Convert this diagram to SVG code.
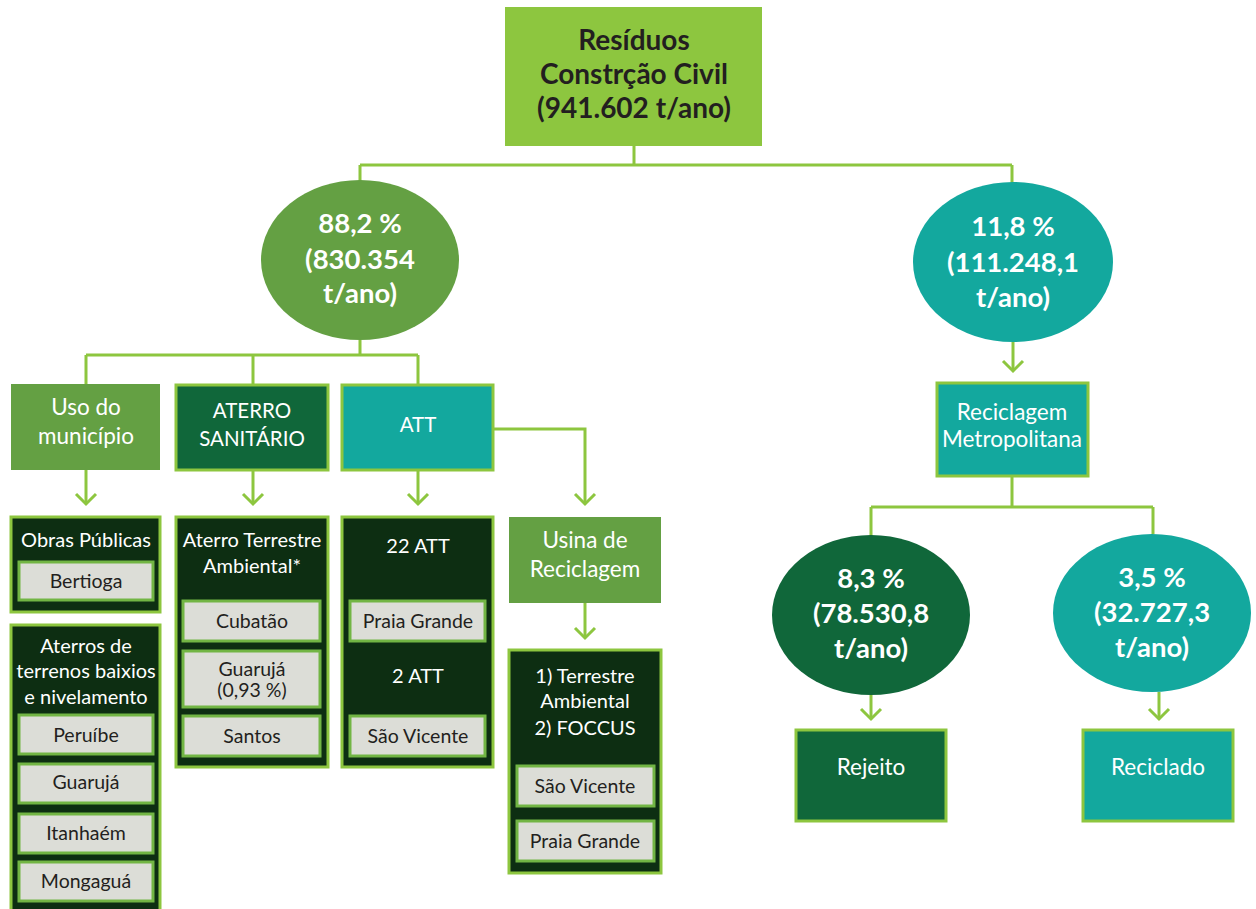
<svg xmlns="http://www.w3.org/2000/svg" width="1256" height="909" viewBox="0 0 1256 909">
<style>
text{font-family:Lato,"Noto Sans","Liberation Sans",sans-serif;text-anchor:middle}
.t{font-size:28px;font-weight:bold;fill:#231f20}
.e{font-size:27.5px;font-weight:bold;fill:#ffffff}
.w{font-size:22.5px;fill:#ffffff}
.u{font-size:20.5px;fill:#ffffff}
.d{font-size:20px;fill:#ffffff}
.s{font-size:19.5px;fill:#231f20}
.mid{fill:#64a043}
.dk{fill:#10673a;stroke:#8dc63f;stroke-width:3}
.tl{fill:#13a89e;stroke:#8dc63f;stroke-width:3}
.bx{fill:#0d2e12;stroke:#8dc63f;stroke-width:3}
.in{fill:#dcddd7;stroke:#72b544;stroke-width:3}
.c{fill:none;stroke:#8dc63f;stroke-width:3}
</style>
<defs>
<marker id="chev" markerUnits="userSpaceOnUse" markerWidth="26" markerHeight="26" viewBox="0 0 26 26" refX="13" refY="13" orient="auto">
<path d="M3,3 L13,13 L3,23" fill="none" stroke="#8dc63f" stroke-width="3"/>
</marker>
</defs>
<rect width="1256" height="909" fill="#ffffff"/>
<g id="connectors">
<path class="c" d="M634,146 V165 M360,165 H1012 M360,165 V181 M1012,165 V183"/>
<path class="c" d="M360,340 V355 M86,355 H418 M86,355 V384 M253,355 V384 M418,355 V384"/>
<path class="c" d="M86,470 V504" marker-end="url(#chev)"/>
<path class="c" d="M253,470 V504" marker-end="url(#chev)"/>
<path class="c" d="M418,470 V504" marker-end="url(#chev)"/>
<path class="c" d="M493,429 H585 V504" marker-end="url(#chev)"/>
<path class="c" d="M585,603 V638" marker-end="url(#chev)"/>
<path class="c" d="M1013,342 V371" marker-end="url(#chev)"/>
<path class="c" d="M1012,476 V507 M871,507 H1153 M871,507 V536 M1153,507 V534"/>
<path class="c" d="M871,695 V719" marker-end="url(#chev)"/>
<path class="c" d="M1159,692 V719" marker-end="url(#chev)"/>
</g>
<g id="n-top">
<rect x="505" y="7" width="257" height="139" fill="#8dc63f"/>
<text class="t" x="634" y="50">Resíduos</text>
<text class="t" x="634" y="84">Constrção Civil</text>
<text class="t" x="634" y="118">(941.602 t/ano)</text>
</g>
<g id="n-882">
<ellipse cx="360" cy="260" rx="99" ry="80" fill="#64a043"/>
<text class="e" x="360" y="233">88,2 %</text>
<text class="e" x="360" y="269">(830.354</text>
<text class="e" x="360" y="303">t/ano)</text>
</g>
<g id="n-118">
<ellipse cx="1013" cy="262" rx="100" ry="80" fill="#13a89e"/>
<text class="e" x="1013" y="236">11,8 %</text>
<text class="e" x="1013" y="272">(111.248,1</text>
<text class="e" x="1013" y="307">t/ano)</text>
</g>
<g id="n-uso">
<rect class="mid" x="11" y="384" width="149" height="86"/>
<text class="w" x="86" y="415">Uso do</text>
<text class="w" x="86" y="444">município</text>
</g>
<g id="n-aterro">
<rect class="dk" x="176" y="385" width="152" height="85"/>
<text class="u" x="252" y="418">ATERRO</text>
<text class="u" x="252" y="446">SANITÁRIO</text>
</g>
<g id="n-att">
<rect class="tl" x="342" y="385" width="151" height="85"/>
<text class="u" x="418" y="432">ATT</text>
</g>
<g id="n-obras">
<rect class="bx" x="11" y="517" width="149" height="95"/>
<text class="d" x="86" y="547">Obras Públicas</text>
<rect class="in" x="19" y="562" width="134" height="38"/>
<text class="s" x="86" y="588">Bertioga</text>
</g>
<g id="n-aterros">
<rect class="bx" x="11" y="625" width="149" height="290"/>
<text class="d" x="86" y="653">Aterros de</text>
<text class="d" x="86" y="678">terrenos baixios</text>
<text class="d" x="86" y="704">e nivelamento</text>
<rect class="in" x="19" y="715" width="134" height="39"/>
<text class="s" x="86" y="742">Peruíbe</text>
<rect class="in" x="19" y="764" width="134" height="39"/>
<text class="s" x="86" y="789">Guarujá</text>
<rect class="in" x="19" y="814" width="134" height="39"/>
<text class="s" x="86" y="840">Itanhaém</text>
<rect class="in" x="19" y="862" width="134" height="39"/>
<text class="s" x="86" y="888">Mongaguá</text>
</g>
<g id="n-ata">
<rect class="bx" x="176" y="517" width="152" height="250"/>
<text class="d" x="252" y="547">Aterro Terrestre</text>
<text class="d" x="252" y="573">Ambiental*</text>
<rect class="in" x="183" y="601" width="137" height="40"/>
<text class="s" x="252" y="628">Cubatão</text>
<rect class="in" x="183" y="651" width="137" height="56"/>
<text class="s" x="252" y="676">Guarujá</text>
<text class="s" x="252" y="697">(0,93 %)</text>
<rect class="in" x="183" y="716" width="137" height="40"/>
<text class="s" x="252" y="743">Santos</text>
</g>
<g id="n-att2">
<rect class="bx" x="342" y="517" width="151" height="250"/>
<text class="d" x="418" y="553">22 ATT</text>
<rect class="in" x="350" y="601" width="135" height="40"/>
<text class="s" x="418" y="628">Praia Grande</text>
<text class="d" x="418" y="683">2 ATT</text>
<rect class="in" x="350" y="716" width="135" height="40"/>
<text class="s" x="418" y="743">São Vicente</text>
</g>
<g id="n-usina">
<rect class="mid" x="509" y="517" width="152" height="86"/>
<text class="w" x="585" y="548">Usina de</text>
<text class="w" x="585" y="577">Reciclagem</text>
</g>
<g id="n-foccus">
<rect class="bx" x="509" y="650" width="152" height="223"/>
<text class="d" x="585" y="683">1) Terrestre</text>
<text class="d" x="585" y="708">Ambiental</text>
<text class="d" x="585" y="735">2) FOCCUS</text>
<rect class="in" x="517" y="766" width="137" height="40"/>
<text class="s" x="585" y="793">São Vicente</text>
<rect class="in" x="517" y="821" width="137" height="40"/>
<text class="s" x="585" y="848">Praia Grande</text>
</g>
<g id="n-recmet">
<rect class="tl" x="937" y="383" width="151" height="93"/>
<text class="w" x="1012" y="420">Reciclagem</text>
<text class="w" x="1012" y="447">Metropolitana</text>
</g>
<g id="n-83">
<ellipse cx="871" cy="615" rx="99" ry="80" fill="#10673a"/>
<text class="e" x="871" y="588">8,3 %</text>
<text class="e" x="871" y="623">(78.530,8</text>
<text class="e" x="871" y="658">t/ano)</text>
</g>
<g id="n-35">
<ellipse cx="1152" cy="613" rx="99" ry="79" fill="#13a89e"/>
<text class="e" x="1152" y="587">3,5 %</text>
<text class="e" x="1152" y="622">(32.727,3</text>
<text class="e" x="1152" y="657">t/ano)</text>
</g>
<g id="n-rejeito">
<rect class="dk" x="796" y="730" width="150" height="91"/>
<text class="w" x="871" y="775">Rejeito</text>
</g>
<g id="n-reciclado">
<rect class="tl" x="1083" y="730" width="150" height="91"/>
<text class="w" x="1158" y="775">Reciclado</text>
</g>
</svg>
